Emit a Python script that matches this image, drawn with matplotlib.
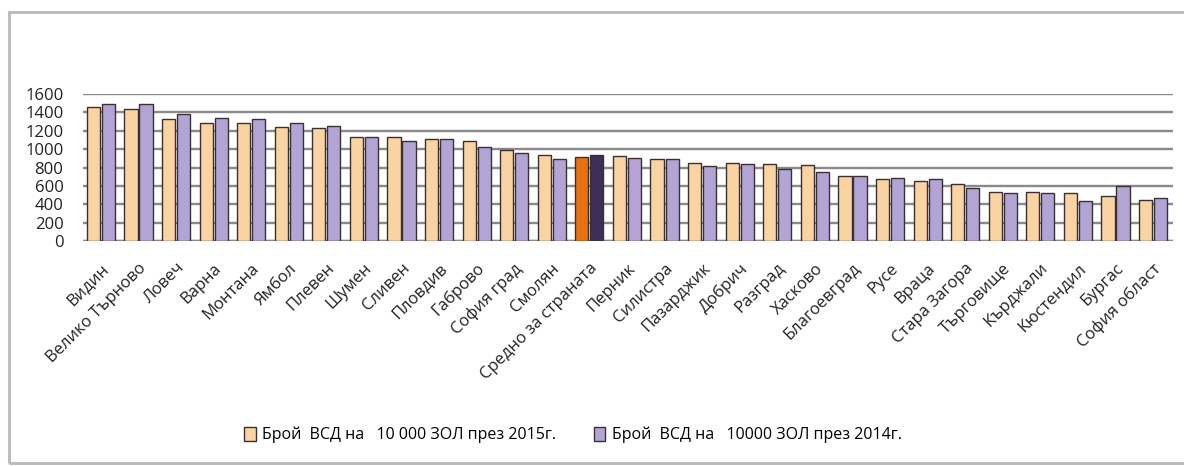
import numpy as np
import matplotlib
matplotlib.use("Agg")
import matplotlib.pyplot as plt
from matplotlib.patches import Rectangle, Patch

plt.rcParams['font.family'] = ['Open Sans', 'DejaVu Sans']

#============================================
regions = ["Видин", "Велико Търново", "Ловеч", "Варна", "Монтана", "Ямбол",
           "Плевен", "Шумен", "Сливен", "Пловдив", "Габрово", "София град",
           "Смолян", "Средно за страната", "Перник", "Силистра", "Пазарджик",
           "Добрич", "Разград", "Хасково", "Благоевград", "Русе", "Враца",
           "Стара Загора", "Търговище", "Кърджали", "Кюстендил", "Бургас",
           "София област"]
vals_2015 = [1465, 1435, 1326, 1290, 1290, 1247, 1228, 1134, 1134, 1108,
             1090, 988, 941, 920, 927, 890, 854, 854, 843, 825, 708, 672,
             650, 621, 534, 534, 527, 490, 447]
vals_2014 = [1490, 1490, 1388, 1345, 1330, 1290, 1254, 1134, 1090, 1108,
             1021, 963, 890, 941, 909, 890, 818, 836, 781, 756, 708, 690,
             672, 582, 520, 520, 432, 600, 469]
label_2015 = "Брой  ВСД на   10 000 ЗОЛ през 2015г."
label_2014 = "Брой  ВСД на   10000 ЗОЛ през 2014г."
highlight = "Средно за страната"
y_ticks = [0, 200, 400, 600, 800, 1000, 1200, 1400, 1600]
#============================================

c15 = "#fad3a3"
c14 = "#b3a4d6"
c15_hi = "#e8710f"
c14_hi = "#3f2e58"
edge = "#3a3030"


def main():
    fig = plt.figure(figsize=(11.84, 4.66), dpi=100)
    ax = fig.add_axes([0.070, 0.483, 0.921, 0.315])

    x = np.arange(len(regions))
    w = 0.35
    cols15 = [c15_hi if r == highlight else c15 for r in regions]
    cols14 = [c14_hi if r == highlight else c14 for r in regions]
    ax.bar(x - w / 2 - 0.025, vals_2015, w, color=cols15, edgecolor=edge,
           linewidth=1.0, zorder=3)
    ax.bar(x + w / 2 + 0.025, vals_2014, w, color=cols14, edgecolor=edge,
           linewidth=1.0, zorder=3)

    ax.set_xlim(-0.48, len(regions) - 0.46)
    ax.set_ylim(0, 1600)
    ax.set_yticks(y_ticks)
    ax.set_yticklabels([str(t) for t in y_ticks], fontsize=12, color="#222222")
    ax.yaxis.grid(True, color="#8a8a8a", linewidth=1.7, zorder=0)
    ax.set_axisbelow(True)
    for s in ax.spines.values():
        s.set_visible(False)
    ax.axhline(0, color="#8a8a8a", linewidth=1.7, zorder=1)
    ax.tick_params(axis="y", length=0, pad=14)
    ax.tick_params(axis="x", length=0, pad=14)

    ax.set_xticks(x)
    ax.set_xticklabels(regions, rotation=45, ha="right", rotation_mode="anchor",
                       fontsize=12, color="#222222")

    handles = [Patch(facecolor=c15, edgecolor=edge, linewidth=1.0),
               Patch(facecolor=c14, edgecolor=edge, linewidth=1.0)]
    fig.legend(handles, [label_2015, label_2014], loc="center",
               bbox_to_anchor=(0.484, 0.066), ncol=2, frameon=False,
               fontsize=11.5, handlelength=0.7, handleheight=0.9,
               handletextpad=0.4, columnspacing=2.4)

    # outer chart frame
    fig.patches.append(Rectangle((9 / 1184, 3 / 466), 1.2, 451 / 466,
                                 transform=fig.transFigure, fill=False,
                                 edgecolor="#bdbdbd", linewidth=2.2))

    fig.savefig("out.png", dpi=100)


if __name__ == '__main__':
    main()
